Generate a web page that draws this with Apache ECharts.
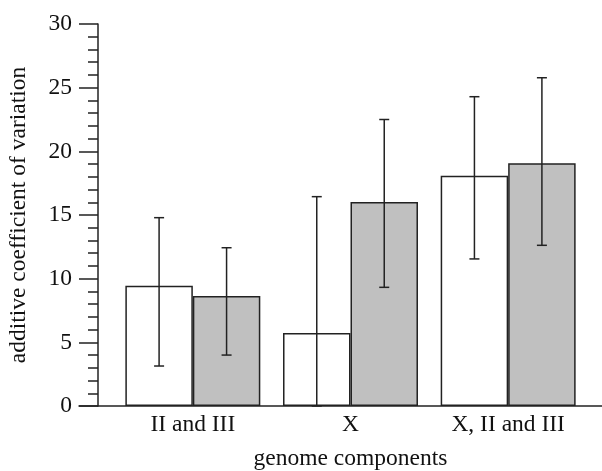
<!DOCTYPE html>
<html>
<head>
<meta charset="utf-8">
<script src="https://cdn.jsdelivr.net/npm/echarts@6/dist/echarts.min.js"></script>
<style>html,body{margin:0;padding:0;background:#fff}#c{width:602px;height:471px}</style>
</head>
<body>
<div id="c"></div>
<script>
const categories = ['II and III', 'X', 'X, II and III'];
const whiteValues = [9.45, 5.73, 18.09];
const whiteLow = [3.14, 0, 11.55];
const whiteHigh = [14.79, 16.44, 24.29];
const greyValues = [8.64, 16.02, 19.06];
const greyLow = [4.0, 9.32, 12.62];
const greyHigh = [12.43, 22.5, 25.78];

const catGap = 0.144;
const font = 'Liberation Serif';
const fs = 23.5;

function errSeries(low, high, side) {
  return {
    type: 'custom',
    xAxisIndex: 0, yAxisIndex: 0,
    z: 5,
    data: low.map((l, i) => [i, l, high[i]]),
    renderItem: function (params, api) {
      const i = api.value(0);
      const band = api.size([1, 0])[0];
      const off = side * band * (1 - catGap) / 4;
      const p1 = api.coord([i, api.value(1)]);
      const p2 = api.coord([i, api.value(2)]);
      const x = p1[0] + off;
      const cap = 5;
      const st = {stroke: '#222', lineWidth: 1.5};
      return {type: 'group', children: [
        {type: 'line', shape: {x1: x, y1: p1[1], x2: x, y2: p2[1]}, style: st},
        {type: 'line', shape: {x1: x - cap, y1: p1[1], x2: x + cap, y2: p1[1]}, style: st},
        {type: 'line', shape: {x1: x - cap, y1: p2[1], x2: x + cap, y2: p2[1]}, style: st}
      ]};
    }
  };
}

const chart = echarts.init(document.getElementById('c'));
chart.setOption({
  animation: false,
  backgroundColor: '#fff',
  textStyle: {fontFamily: font},
  grid: [
    {left: 114, width: 473, top: 24, height: 382, containLabel: false, outerBoundsMode: 'none'},
    {left: 79, right: 0, top: 24, height: 382, containLabel: false, outerBoundsMode: 'none'}
  ],
  xAxis: [
    {
      type: 'category', data: categories, gridIndex: 0,
      axisLine: {show: false}, axisTick: {show: false},
      axisLabel: {fontFamily: font, fontSize: fs, color: '#111', margin: 7},
      name: 'genome components', nameLocation: 'middle', nameGap: 41,
      nameTextStyle: {fontFamily: font, fontSize: fs, color: '#111'}
    },
    {
      type: 'value', gridIndex: 1, min: 0, max: 1,
      axisLine: {show: true, lineStyle: {color: '#222', width: 1.5}},
      axisTick: {show: false}, axisLabel: {show: false}, splitLine: {show: false}
    }
  ],
  yAxis: [
    {
      type: 'value', gridIndex: 0, min: 0, max: 30, interval: 5, offset: 16,
      axisLine: {show: true, lineStyle: {color: '#222', width: 1.5}},
      axisTick: {show: true, length: 19, lineStyle: {color: '#222', width: 1.5}},
      minorTick: {show: true, splitNumber: 5, length: 10, lineStyle: {color: '#222', width: 1.5}},
      splitLine: {show: false},
      axisLabel: {fontFamily: font, fontSize: fs, color: '#111', margin: 26},
      name: 'additive coefficient of variation', nameLocation: 'middle', nameGap: 67,
      nameTextStyle: {fontFamily: font, fontSize: fs, color: '#111'}
    },
    {
      type: 'value', gridIndex: 1, min: 0, max: 1, show: false
    }
  ],
  series: [
    {
      type: 'bar', data: whiteValues, barGap: '0%', barCategoryGap: (catGap * 100) + '%',
      itemStyle: {color: '#fff', borderColor: '#222', borderWidth: 1.5}
    },
    {
      type: 'bar', data: greyValues, barGap: '0%', barCategoryGap: (catGap * 100) + '%',
      itemStyle: {color: '#c0c0c0', borderColor: '#222', borderWidth: 1.5}
    },
    errSeries(whiteLow, whiteHigh, -1),
    errSeries(greyLow, greyHigh, 1)
  ]
});
</script>
</body>
</html>
